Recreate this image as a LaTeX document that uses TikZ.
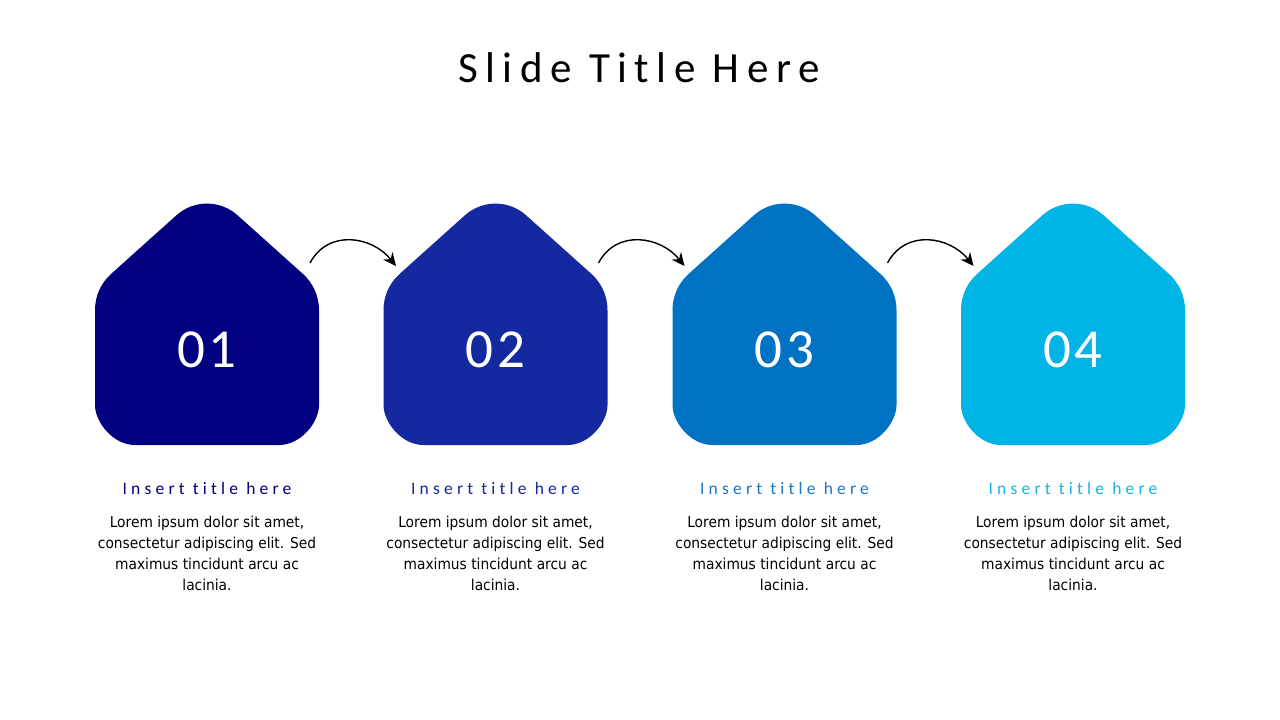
\documentclass[tikz,border=0pt]{standalone}
\usepackage{fontspec}
\setmainfont{Carlito}[Ligatures=NoCommon]
\newfontfamily\bodyfont{DejaVu Sans}[FakeStretch=0.92]
\usetikzlibrary{arrows.meta}
\definecolor{c1}{HTML}{000080}
\definecolor{c2}{HTML}{1428A0}
\definecolor{c3}{HTML}{0072C4}
\definecolor{c4}{HTML}{00B4E6}
\definecolor{t3}{HTML}{1A78CC}
\definecolor{t4}{HTML}{1AB2E2}
\tikzset{
  numtxt/.style={text=white, inner sep=0pt, anchor=base, font=\fontsize{55}{60}\selectfont\addfontfeatures{LetterSpace=6}},
  subt/.style={inner sep=0pt, anchor=base, font=\fontsize{17.5}{20}\selectfont\addfontfeatures{LetterSpace=24}},
  bodytxt/.style={inner sep=0pt, align=center, text=black, font=\bodyfont\fontsize{15}{21}\selectfont},
  maintitle/.style={inner sep=0pt, anchor=base, font=\fontsize{43}{48}\selectfont\addfontfeatures{LetterSpace=17.5}},
  arr/.style={line width=1.4pt, -{Stealth[length=13pt,width=12pt]}}
}
\begin{document}
\begin{tikzpicture}[x=1pt,y=-1pt]
\useasboundingbox (0,0) rectangle (1280,720);
\fill[white] (0,0) rectangle (1280,720);
\node[maintitle] (title) at (639,82) {Slide Title Here};
\foreach \cx/\col/\tc/\i in {207/c1/c1/1, 495.5/c2/c2/2, 784.5/c3/t3/3, 1073/c4/t4/4}{
  \fill[\col] (\cx,445) -- (\cx+72,445) .. controls (\cx+94.1,445) and (\cx+112,422.1) .. (\cx+112,405)
    -- (\cx+112,310) .. controls (\cx+112,296) and (\cx+106,283) .. (\cx+96,274)
    -- (\cx+30.6,215.3) .. controls (\cx+13.2,199.7) and (\cx-13.2,199.7) .. (\cx-30.6,215.3)
    -- (\cx-96,274) .. controls (\cx-106,283) and (\cx-112,296) .. (\cx-112,310)
    -- (\cx-112,405) .. controls (\cx-112,422.1) and (\cx-94.1,445) .. (\cx-72,445) -- cycle;
  \node[numtxt] (n\i) at (\cx,367) {0\i};
  \node[subt, text=\tc] (t\i) at (\cx,494) {Insert title here};
  \node[bodytxt] (b\i) at (\cx,553) {Lorem ipsum dolor sit amet,\\consectetur adipiscing elit. Sed\\maximus tincidunt arcu ac\\lacinia.};
}
\foreach \cx/\i in {207/1, 495.5/2, 784.5/3}{
  \coordinate (s\i) at (\cx+103,263);
  \coordinate (e\i) at (\cx+189,266);
  \draw[arr] (s\i) .. controls +(18,-34) and +(-24,-30) .. (e\i);
}
\end{tikzpicture}
\end{document}
